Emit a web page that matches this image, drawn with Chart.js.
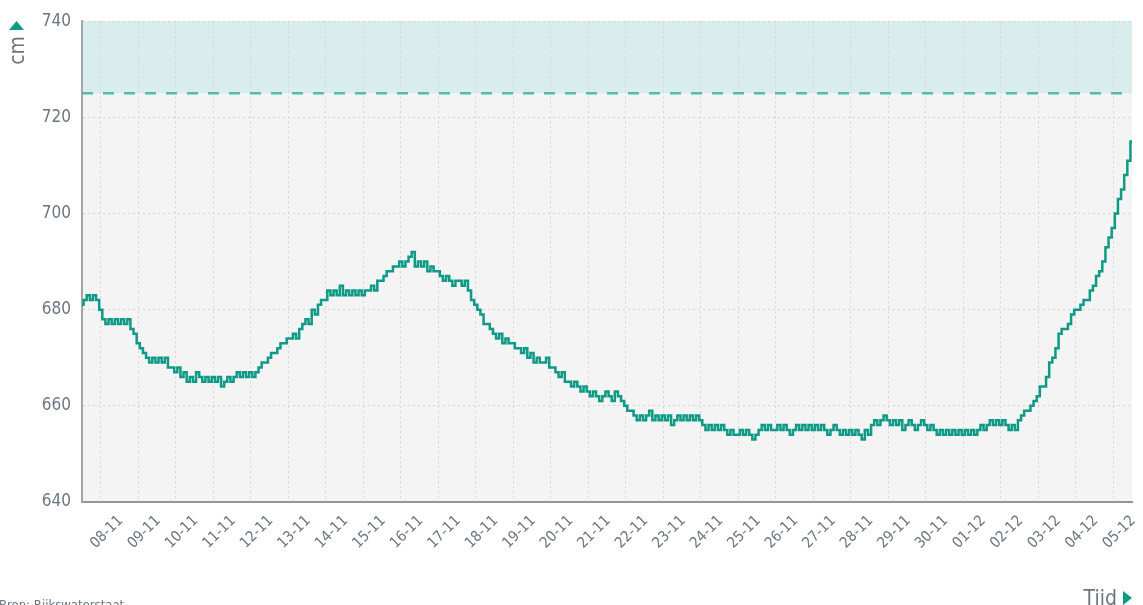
<!DOCTYPE html>
<html>
<head>
<meta charset="utf-8">
<script src="https://cdn.jsdelivr.net/npm/chart.js@4/dist/chart.umd.min.js"></script>
<style>
  html, body { margin: 0; padding: 0; background: #fff; }
  #wrap { width: 1143px; height: 605px; position: relative; }
</style>
</head>
<body>
<div id="wrap"><canvas id="chart"></canvas></div>
<script>
// day labels at each midnight, 08-11 .. 05-12
const dayLabels = ["08-11", "09-11", "10-11", "11-11", "12-11", "13-11", "14-11", "15-11", "16-11", "17-11",
	"18-11", "19-11", "20-11", "21-11", "22-11", "23-11", "24-11", "25-11", "26-11", "27-11",
	"28-11", "29-11", "30-11", "01-12", "02-12", "03-12", "04-12", "05-12"];

// hours relative to 08-11 00:00, one reading every 2 hours
const startHour = -12;
const stepHours = 2;
const endHour = 660;

// water level in cm (2-hourly)
const levels = [
	681, 682, 683, 682, 683, 682,
	680, 678, 677, 678, 677, 678, 677, 678, 677, 678, 676, 675,
	673, 672, 671, 670, 669, 670, 669, 670, 669, 670, 668, 668,
	667, 668, 666, 667, 665, 666, 665, 667, 666, 665, 666, 665,
	666, 665, 666, 664, 665, 666, 665, 666, 667, 666, 667, 666,
	667, 666, 667, 668, 669, 669, 670, 671, 671, 672, 673, 673,
	674, 674, 675, 674, 676, 677, 678, 677, 680, 679, 681, 682,
	682, 684, 683, 684, 683, 685, 683, 684, 683, 684, 683, 684,
	683, 684, 684, 685, 684, 686, 686, 687, 688, 688, 689, 689,
	690, 689, 690, 691, 692, 689, 690, 689, 690, 688, 689, 688,
	688, 687, 686, 687, 686, 685, 686, 686, 685, 686, 684, 682,
	681, 680, 679, 677, 677, 676, 675, 674, 675, 673, 674, 673,
	673, 672, 672, 671, 672, 670, 671, 669, 670, 669, 669, 670,
	668, 668, 667, 666, 667, 665, 665, 664, 665, 664, 663, 664,
	663, 662, 663, 662, 661, 662, 663, 662, 661, 663, 662, 661,
	660, 659, 659, 658, 657, 658, 657, 658, 659, 657, 658, 657,
	658, 657, 658, 656, 657, 658, 657, 658, 657, 658, 657, 658,
	657, 656, 655, 656, 655, 656, 655, 656, 655, 654, 655, 654,
	654, 655, 654, 655, 654, 653, 654, 655, 656, 655, 656, 655,
	655, 656, 655, 656, 655, 654, 655, 656, 655, 656, 655, 656,
	655, 656, 655, 656, 655, 654, 655, 656, 655, 654, 655, 654,
	655, 654, 655, 654, 653, 655, 654, 656, 657, 656, 657, 658,
	657, 656, 657, 656, 657, 655, 656, 657, 656, 655, 656, 657,
	656, 655, 656, 655, 654, 655, 654, 655, 654, 655, 654, 655,
	654, 655, 654, 655, 654, 655, 656, 655, 656, 657, 656, 657,
	656, 657, 656, 655, 656, 655, 657, 658, 659, 659, 660, 661,
	662, 664, 664, 666, 669, 670, 672, 675, 676, 676, 677, 679,
	680, 680, 681, 682, 682, 684, 685, 687, 688, 690, 693, 695,
	697, 700, 703, 705, 708, 711, 715
];

const yTicks = [640, 660, 680, 700, 720, 740];
const alarmLevel = 725;

const points = levels.map((v, i) => ({ x: startHour + i * stepHours, y: v }));

const FONT = "'Liberation Sans Narrow', 'DejaVu Sans Condensed', 'Roboto', sans-serif";
const TEXT = "#6b7680";
const TEAL = "#0f9a86";

const backdrop = {
	id: "backdrop",
	beforeDraw(chart) {
		const { ctx, chartArea: a, scales: { y } } = chart;
		const yAlarm = y.getPixelForValue(alarmLevel);
		ctx.save();
		ctx.fillStyle = "#f4f4f4";
		ctx.fillRect(a.left, a.top, a.right - a.left, a.bottom - a.top);
		ctx.fillStyle = "#d9eeec";
		ctx.fillRect(a.left, a.top, a.right - a.left, yAlarm - a.top);
		ctx.restore();
	},
	beforeDatasetsDraw(chart) {
		const { ctx, chartArea: a, scales: { y } } = chart;
		const yAlarm = y.getPixelForValue(alarmLevel);
		ctx.save();
		ctx.strokeStyle = "#55bca9";
		ctx.lineWidth = 2.5;
		ctx.setLineDash([11, 10]);
		ctx.beginPath();
		ctx.moveTo(a.left, yAlarm);
		ctx.lineTo(a.right, yAlarm);
		ctx.stroke();
		ctx.restore();
	},
	afterDraw(chart) {
		const { ctx } = chart;
		ctx.save();
		ctx.fillStyle = TEAL;
		// up triangle above "cm"
		ctx.beginPath();
		ctx.moveTo(9, 30);
		ctx.lineTo(24, 30);
		ctx.lineTo(16.5, 21);
		ctx.closePath();
		ctx.fill();
		// right triangle after "Tiid"
		ctx.beginPath();
		ctx.moveTo(1123, 591);
		ctx.lineTo(1123, 605);
		ctx.lineTo(1132, 598);
		ctx.closePath();
		ctx.fill();

		ctx.fillStyle = TEXT;
		ctx.font = "21px " + FONT;
		ctx.textAlign = "right";
		ctx.textBaseline = "alphabetic";
		ctx.fillText("Tiid", 1117, 605);

		ctx.save();
		ctx.translate(24, 36);
		ctx.rotate(-Math.PI / 2);
		ctx.textAlign = "right";
		ctx.fillText("cm", 0, 0);
		ctx.restore();

		ctx.font = "13px " + FONT;
		ctx.textAlign = "left";
		ctx.fillText("Bron: Rijkswaterstaat", -1, 609);
		ctx.restore();
	}
};

new Chart(document.getElementById("chart"), {
	type: "line",
	data: {
		datasets: [{
			data: points,
			borderColor: TEAL,
			borderWidth: 2.5,
			pointRadius: 0,
			stepped: "middle",
			fill: false,
		}],
	},
	options: {
		responsive: true,
		maintainAspectRatio: false,
		animation: false,
		layout: { padding: { top: 20, right: 11, bottom: 0, left: 0 } },
		plugins: {
			legend: { display: false },
			tooltip: { enabled: false },
		},
		scales: {
			x: {
				type: "linear",
				min: startHour,
				max: endHour,
				afterBuildTicks: scale => {
					scale.ticks = dayLabels.map((d, i) => ({ value: i * 24 }));
				},
				afterFit: scale => { scale.height = 103; },
				grid: { color: "#d4d4d4", lineWidth: 1, drawTicks: false },
				border: { display: true, color: "#8e969e", width: 2, dash: [2, 3] },
				ticks: {
					autoSkip: false,
					maxRotation: 45,
					minRotation: 45,
					padding: 10,
					labelOffset: 20,
					color: TEXT,
					font: { family: FONT, size: 15 },
					callback: (value, index) => dayLabels[index],
				},
			},
			y: {
				min: 640,
				max: 740,
				afterBuildTicks: scale => {
					scale.ticks = yTicks.map(v => ({ value: v }));
				},
				afterFit: scale => { scale.width = 82; },
				grid: { color: "#d4d4d4", lineWidth: 1, drawTicks: false },
				border: { display: true, color: "#a2a6aa", width: 2, dash: [2, 3] },
				ticks: {
					padding: 11,
					color: TEXT,
					font: { family: FONT, size: 17 },
				},
			},
		},
	},
	plugins: [backdrop],
});
</script>
</body>
</html>
